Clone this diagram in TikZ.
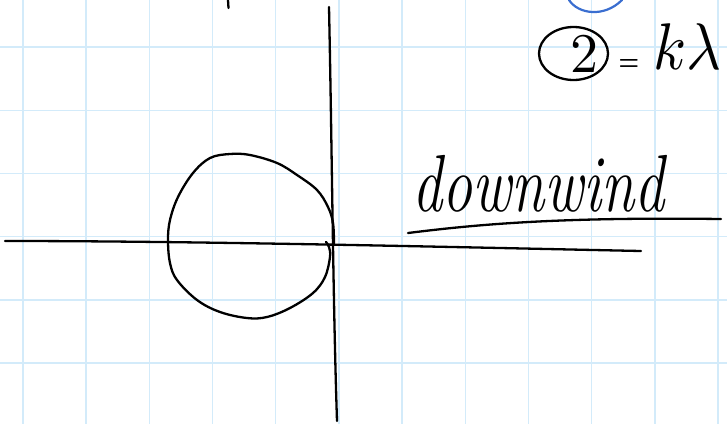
\documentclass[tikz,border=0pt]{standalone}
\usepackage{fontspec}
\usepackage{graphicx}
\definecolor{gridblue}{HTML}{D3EBFA}
\definecolor{penblue}{HTML}{3A6ED0}
\tikzset{
  gridline/.style={gridblue, line width=1.4pt},
  pen/.style={black, line width=2.3pt, line cap=round, line join=round},
  bluepen/.style={penblue, line width=2.2pt, line cap=round},
  hand/.style={inner sep=0pt}
}
\begin{document}
\begin{tikzpicture}[x=1pt,y=-1pt]
\useasboundingbox (0,0) rectangle (727,424);
\fill[white] (0,0) rectangle (727,424);
% grid
\foreach \i in {0,...,11} \draw[gridline] (22.8+63.2*\i,0) -- (22.8+63.2*\i,424);
\foreach \j in {0,...,5} \draw[gridline] (0,47+63.2*\j) -- (727,47+63.2*\j);
% blue arc at top
\draw[bluepen] (569,0) .. controls (578,14) and (604,18) .. (622,0);
% small tick at top
\draw[pen] (228,0) -- (228.5,8);
% axes
\draw[pen] (329,7) .. controls (332,150) and (333,300) .. (337,421);
\draw[pen] (5,241) .. controls (200,241) and (450,247) .. (641,251);
% loop
\draw[pen] plot[smooth, tension=0.6] coordinates {
  (334,244) (333,223) (328,207) (317,190) (297,175) (277,163) (250,155)
  (230,154) (210,158) (193,173) (178,197) (170,220) (168,240) (170,263)
  (177,280) (197,300) (220,312) (247,318) (267,317) (290,308) (313,293)
  (325,277) (330,257) (329,247) (326,242)};
% circled two
\draw[pen] (573.5,53.5) ellipse [x radius=34.5, y radius=26.5];
\node[hand] (two) at (584,54) {\scalebox{5.6}{2}};
\node[hand] (eq) at (629,64.5) {\scalebox{2.3}[2.8]{\bfseries =}};
\node[hand, anchor=base west] (kl) at (653,69) {\scalebox{6}[6.6]{$k\lambda$}};
% downwind
\node[hand, anchor=base west] (word) at (412,211)
  {\fontsize{60}{60}\selectfont\itshape\scalebox{1}[1.35]{downwind}};
\draw[pen] (408,233) .. controls (480,224) and (560,217) .. (721,219);
\end{tikzpicture}
\end{document}
